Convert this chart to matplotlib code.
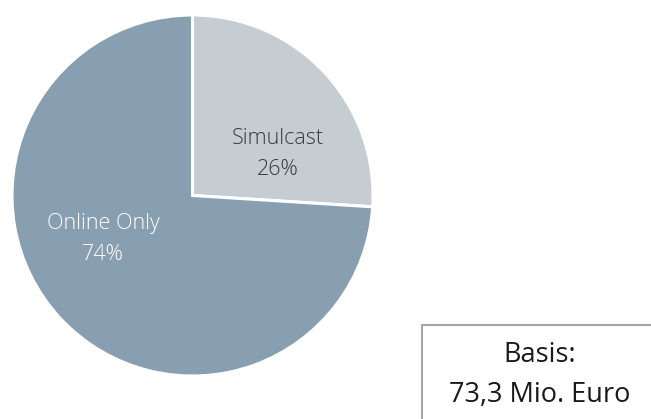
import matplotlib
matplotlib.use("Agg")
import matplotlib.pyplot as plt
from matplotlib.patches import Rectangle

# Revenue split
categories = ["Simulcast", "Online Only"]
shares = [26, 74]
colors = ["#c5cdd2", "#879fb0"]
text_colors = ["#3a3a3a", "#ffffff"]
basis_text = "Basis:\n73,3 Mio. Euro"

W, H = 651, 419
fig = plt.figure(figsize=(W / 100, H / 100), dpi=100)
ax = fig.add_axes([0, 0, 1, 1])

font = ["Open Sans", "DejaVu Sans"]

cx, cy, r = 192.5, H - 195.5, 180.5
ax.pie(shares, colors=colors, startangle=90, counterclock=False,
       center=(cx, cy), radius=r, frame=True,
       wedgeprops=dict(edgecolor="white", linewidth=2.2))
ax.set_xlim(0, W)
ax.set_ylim(0, H)
ax.set_aspect("equal")
ax.axis("off")

label_pos = [(278, H - 154), (103, H - 239)]
for name, val, (x, y), tc in zip(categories, shares, label_pos, text_colors):
    ax.text(x, y, f"{name}\n{val}%", ha="center", va="center", color=tc,
            fontsize=15.5, family=font, fontweight="light", linespacing=1.6)

ax.add_patch(Rectangle((422, -20), 260, H - 325 + 20, facecolor="white",
                       edgecolor="#a6a6a6", linewidth=1.5, clip_on=True))
ax.text(540, H - 375, basis_text, ha="center", va="center", color="#1a1a1a",
        fontsize=19.5, family=font, linespacing=1.55)

fig.savefig("out.png", dpi=100)
